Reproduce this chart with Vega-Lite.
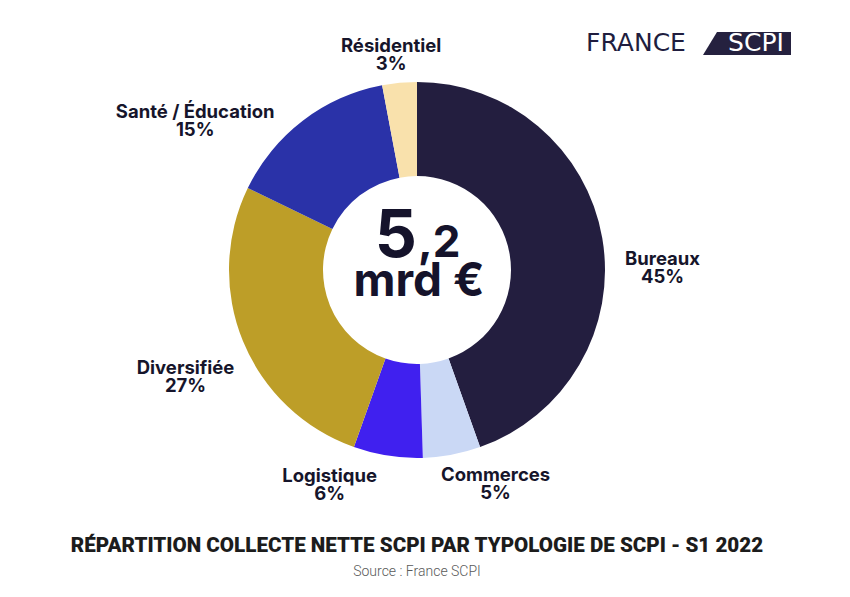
{
  "$schema": "https://vega.github.io/schema/vega-lite/v6.json",
  "width": 834,
  "height": 530,
  "padding": {"left": 0, "top": 5, "right": 0, "bottom": 0},
  "background": "white",
  "config": {"view": {"stroke": null}},
  "title": {
    "text": "RÉPARTITION COLLECTE NETTE SCPI PAR TYPOLOGIE DE SCPI - S1 2022",
    "subtitle": "Source : France SCPI",
    "orient": "bottom",
    "anchor": "middle",
    "font": "Roboto",
    "fontSize": 20.6,
    "fontWeight": 900,
    "color": "#1c1c1c",
    "offset": 1,
    "subtitleFont": "Roboto",
    "subtitleFontSize": 14,
    "subtitleFontWeight": 300,
    "subtitleColor": "#5a5a5a",
    "subtitlePadding": 8
  },
  "data": {
    "values": [
      {"cat": "Bureaux", "share": 0.45, "rank": 1, "label": "Bureaux\n45%"},
      {"cat": "Commerces", "share": 0.05, "rank": 2, "label": "Commerces\n5%"},
      {"cat": "Logistique", "share": 0.06, "rank": 3, "label": "Logistique\n6%"},
      {"cat": "Diversifiée", "share": 0.27, "rank": 4, "label": "Diversifiée\n27%"},
      {"cat": "Santé / Éducation", "share": 0.15, "rank": 5, "label": "Santé / Éducation\n15%"},
      {"cat": "Résidentiel", "share": 0.03, "rank": 6, "label": "Résidentiel\n3%"}
    ]
  },
  "layer": [
    {
      "mark": {"type": "arc", "outerRadius": 188, "innerRadius": 94},
      "encoding": {
        "theta": {"field": "share", "type": "quantitative", "stack": true},
        "color": {
          "field": "cat",
          "type": "nominal",
          "scale": {
            "domain": ["Bureaux", "Commerces", "Logistique", "Diversifiée", "Santé / Éducation", "Résidentiel"],
            "range": ["#231e3f", "#cad8f5", "#4020ef", "#bd9e28", "#2a32a8", "#f9e1ac"]
          },
          "legend": null
        },
        "order": {"field": "rank", "type": "quantitative"}
      }
    },
    {
      "mark": {
        "type": "text",
        "radius": 235,
        "font": "Inter",
        "fontWeight": "bold",
        "fontSize": 18.5,
        "lineHeight": 18,
        "lineBreak": "\n",
        "color": "#16152b",
        "align": "center",
        "baseline": "alphabetic",
        "dx": {"expr": "datum.cat === 'Bureaux' ? 14 : datum.cat === 'Commerces' ? 35 : datum.cat === 'Logistique' ? -51 : datum.cat === 'Diversifiée' ? -14 : datum.cat === 'Santé / Éducation' ? -79 : -4"},
        "dy": {"expr": "datum.cat === 'Bureaux' ? 35.5 : datum.cat === 'Commerces' ? -19.5 : datum.cat === 'Logistique' ? -20.5 : datum.cat === 'Diversifiée' ? 14.5 : datum.cat === 'Santé / Éducation' ? 34.5 : 15.5"}
      },
      "encoding": {
        "theta": {"field": "share", "type": "quantitative", "stack": true},
        "detail": {"field": "cat", "type": "nominal"},
        "order": {"field": "rank", "type": "quantitative"},
        "text": {"field": "label", "type": "nominal"}
      }
    },
    {
      "data": {"values": [{"big": "5", "small": ",2", "unit": "mrd €"}]},
      "layer": [
        {
          "mark": {"type": "text", "font": "Inter", "fontWeight": "bold", "fontSize": 66, "color": "#15132b", "align": "right", "baseline": "alphabetic", "dx": 0, "dy": -13},
          "encoding": {"text": {"field": "big", "type": "nominal"}}
        },
        {
          "mark": {"type": "text", "font": "Inter", "fontWeight": "bold", "fontSize": 44, "color": "#15132b", "align": "left", "baseline": "alphabetic", "dx": 1, "dy": -13},
          "encoding": {"text": {"field": "small", "type": "nominal"}}
        },
        {
          "mark": {"type": "text", "font": "Inter", "fontWeight": "bold", "fontSize": 46, "color": "#15132b", "align": "center", "baseline": "alphabetic", "dx": 2, "dy": 26},
          "encoding": {"text": {"field": "unit", "type": "nominal"}}
        }
      ]
    },
    {
      "data": {"values": [{"left": "FRANCE", "right": "SCPI"}]},
      "layer": [
        {
          "mark": {"type": "point", "shape": "M 3 -2.38 L 3.74 -2.38 L 3.74 -2.15 L 2.86 -2.15 Z", "size": 40000, "filled": true, "color": "#25213f", "opacity": 1, "strokeWidth": 0},
          "encoding": {}
        },
        {
          "mark": {"type": "text", "font": "DejaVu Sans", "fontSize": 25, "color": "#201d3e", "align": "center", "baseline": "alphabetic", "dx": 219, "dy": -219},
          "encoding": {"text": {"field": "left", "type": "nominal"}}
        },
        {
          "mark": {"type": "text", "font": "DejaVu Sans", "fontSize": 25, "color": "#ffffff", "align": "center", "baseline": "alphabetic", "dx": 339, "dy": -219},
          "encoding": {"text": {"field": "right", "type": "nominal"}}
        }
      ]
    }
  ]
}
